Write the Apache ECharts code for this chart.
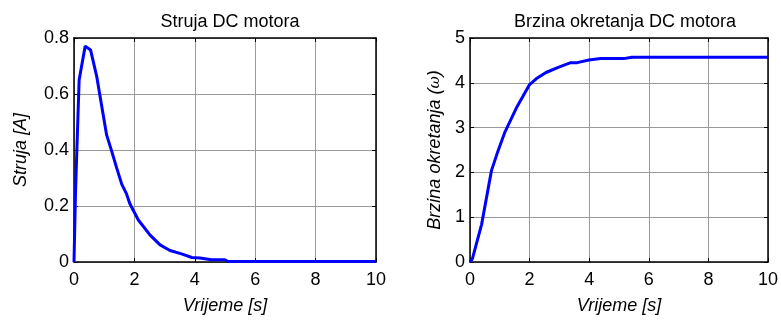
<!DOCTYPE html>
<html><head><meta charset="utf-8">
<script src="https://cdn.jsdelivr.net/npm/echarts@6/dist/echarts.min.js"></script>
<style>html,body{margin:0;padding:0;background:#fff}#c{width:781px;height:320px}</style>
</head><body><div id="c"></div>
<script>
// Data
const currentT = [0, 0.05, 0.17, 0.37, 0.55, 0.75, 0.92, 1.08, 1.25, 1.41, 1.58, 1.74, 1.85, 2.13, 2.52, 2.85, 3.18, 3.56, 3.9, 4.17, 4.55, 5.0, 5.1, 10];
const currentY = [0, 0.25, 0.65, 0.771, 0.757, 0.664, 0.555, 0.454, 0.395, 0.337, 0.278, 0.243, 0.208, 0.15, 0.096, 0.061, 0.041, 0.029, 0.016, 0.014, 0.008, 0.008, 0.002, 0.002];
const speedT = [0, 0.08, 0.39, 0.72, 0.94, 1.16, 1.55, 2.0, 2.22, 2.55, 2.94, 3.38, 3.6, 3.99, 4.38, 5.16, 5.43, 10];
const speedY = [0, 0.07, 0.84, 2.04, 2.48, 2.88, 3.43, 3.96, 4.09, 4.23, 4.34, 4.45, 4.45, 4.51, 4.54, 4.54, 4.57, 4.57];
const xTicks = {min: 0, max: 10, interval: 2};
const currentTicks = {min: 0, max: 0.8, interval: 0.2};
const speedTicks = {min: 0, max: 5, interval: 1};
const titles = ['Struja DC motora', 'Brzina okretanja DC motora'];
const xName = 'Vrijeme [s]';
const yNames = ['Struja [A]', 'Brzina okretanja ({w|ω})'];

const FONT = 'Liberation Sans, Arial, sans-serif';
const grids = [
  {left: 74, top: 38, width: 302, height: 228},
  {left: 470, top: 38, width: 301, height: 228}
];
const lineStyleAxis = {color: '#000', width: 1.5};
function xAxes(gi) {
  return [
    {type: 'value', gridIndex: gi, position: 'bottom', min: xTicks.min, max: xTicks.max, interval: xTicks.interval,
     name: xName, nameLocation: 'middle', nameGap: 35,
     nameTextStyle: {fontFamily: FONT, fontSize: 18, fontStyle: 'italic', color: '#000'},
     axisLine: {show: true, onZero: false, lineStyle: lineStyleAxis},
     axisTick: {show: true, inside: true, length: 4, lineStyle: {color: '#000'}},
     axisLabel: {fontFamily: FONT, fontSize: 18, color: '#000', margin: 9},
     splitLine: {show: true, lineStyle: {color: '#999', width: 1}}},
    {type: 'value', gridIndex: gi, position: 'top', min: xTicks.min, max: xTicks.max, interval: xTicks.interval,
     axisLine: {show: true, onZero: false, lineStyle: lineStyleAxis},
     axisTick: {show: true, inside: true, length: 4, lineStyle: {color: '#000'}},
     axisLabel: {show: false}, splitLine: {show: false}}
  ];
}
function yAxes(gi, t, gap) {
  return [
    {type: 'value', gridIndex: gi, position: 'left', min: t.min, max: t.max, interval: t.interval,
     name: yNames[gi], nameLocation: 'middle', nameGap: gap,
     nameTextStyle: {fontFamily: FONT, fontSize: 18, fontStyle: 'italic', color: '#000',
       rich: {w: {fontFamily: 'DejaVu Serif, serif', fontSize: 15, fontStyle: 'italic', color: '#000'}}},
     axisLine: {show: true, onZero: false, lineStyle: lineStyleAxis},
     axisTick: {show: true, inside: true, length: 4, lineStyle: {color: '#000'}},
     axisLabel: {fontFamily: FONT, fontSize: 18, color: '#000', margin: 5},
     splitLine: {show: true, lineStyle: {color: '#999', width: 1}}},
    {type: 'value', gridIndex: gi, position: 'right', min: t.min, max: t.max, interval: t.interval,
     axisLine: {show: true, onZero: false, lineStyle: lineStyleAxis},
     axisTick: {show: true, inside: true, length: 4, lineStyle: {color: '#000'}},
     axisLabel: {show: false}, splitLine: {show: false}}
  ];
}
const chart = echarts.init(document.getElementById('c'), null, {renderer: 'canvas'});
chart.setOption({
  animation: false,
  backgroundColor: '#fff',
  title: [
    {text: titles[0], left: 225, top: 8, textAlign: 'center',
     textStyle: {fontFamily: FONT, fontSize: 18, fontWeight: 'normal', color: '#000'}},
    {text: titles[1], left: 620, top: 8, textAlign: 'center',
     textStyle: {fontFamily: FONT, fontSize: 18, fontWeight: 'normal', color: '#000'}}
  ],
  grid: grids,
  xAxis: [...xAxes(0), ...xAxes(1)],
  yAxis: [...yAxes(0, currentTicks, 44), ...yAxes(1, speedTicks, 26)],
  series: [
    {type: 'line', xAxisIndex: 0, yAxisIndex: 0, showSymbol: false, symbol: 'none',
     lineStyle: {color: '#0000ff', width: 3}, data: currentT.map((t, i) => [t, currentY[i]])},
    {type: 'line', xAxisIndex: 2, yAxisIndex: 2, showSymbol: false, symbol: 'none',
     lineStyle: {color: '#0000ff', width: 3}, data: speedT.map((t, i) => [t, speedY[i]])}
  ]
});
</script></body></html>
